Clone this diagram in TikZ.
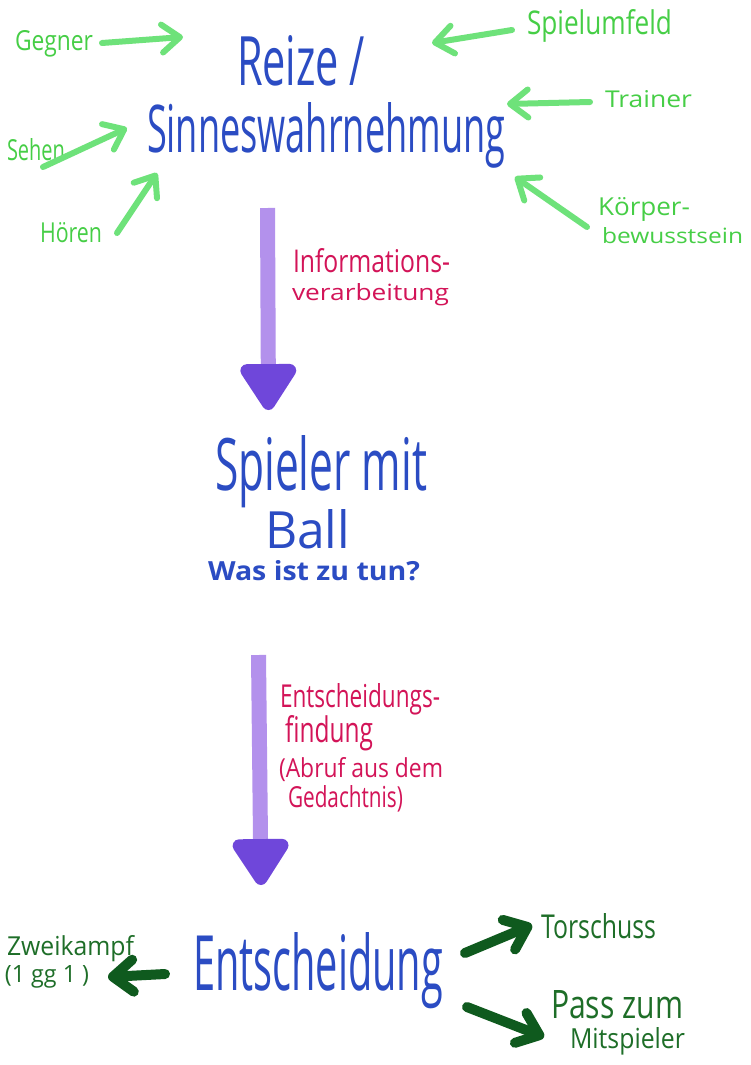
\documentclass[tikz,border=0pt]{standalone}
\usepackage{fontspec}
\usepackage{graphicx}
\setmainfont{Open Sans}
\usetikzlibrary{arrows.meta}
\definecolor{inkblue}{HTML}{2B4CC3}
\definecolor{textgreen}{HTML}{46CE46}
\definecolor{arrowgreen}{HTML}{6EE27A}
\definecolor{darkgreen}{HTML}{0F5A1E}
\definecolor{darkgreentext}{HTML}{1E6E28}
\definecolor{crimson}{HTML}{D31458}
\definecolor{shaftpurple}{HTML}{B391EC}
\definecolor{headpurple}{HTML}{6F47DA}
\newcommand{\hwtext}[3]{\resizebox{#1pt}{#2pt}{#3}}
\tikzset{
  txt/.style={anchor=base west, inner sep=0pt, outer sep=0pt},
  bluetxt/.style={txt, text=inkblue},
  greentxt/.style={txt, text=textgreen},
  dgreentxt/.style={txt, text=darkgreentext},
  redtxt/.style={txt, text=crimson},
  lightarrow/.style={draw=arrowgreen, line width=6pt, line cap=round,
    -{Straight Barb[length=18pt, width=28pt, round]}},
  darkarrow/.style={draw=darkgreen, line width=10pt, line cap=round,
    -{Straight Barb[length=20pt, width=32pt, round]}},
  bigarrow/.style={draw=shaftpurple, line width=15pt,
    -{Triangle[length=52pt, width=63pt, color=headpurple, round]}}
}
\begin{document}
\begin{tikzpicture}[x=1pt,y=-1pt]
\useasboundingbox[fill=white] (0,0) rectangle (750,1065);
% main texts
\node[bluetxt] (reize) at (237,85) {\hwtext{128}{50}{Reize /}};
\node[bluetxt] (sinnes) at (147,152) {\hwtext{358}{50}{Sinneswahrnehmung}};
\node[bluetxt] (spieler) at (215,490) {\hwtext{212}{55}{Spieler mit}};
\node[bluetxt] (ball) at (265,548) {\hwtext{85}{39}{Ball}};
\node[bluetxt] (wasist) at (208,580) {\hwtext{212}{20}{\bfseries Was ist zu tun?}};
\node[bluetxt] (entsch) at (193,990) {\hwtext{250}{58}{Entscheidung}};
% green labels
\node[greentxt] (gegner) at (15,50) {\hwtext{78}{20}{Gegner}};
\node[greentxt] (spielumfeld) at (527,35) {\hwtext{145}{25}{Spielumfeld}};
\node[greentxt] (trainer) at (605,107) {\hwtext{87}{17}{Trainer}};
\node[greentxt] (sehen) at (7,160) {\hwtext{58}{22}{Sehen}};
\node[greentxt] (hoeren) at (40,242) {\hwtext{62}{20}{Hören}};
\node[greentxt] (koerper) at (598,215) {\hwtext{92}{18}{Körper-}};
\node[greentxt] (bewusst) at (602,243) {\hwtext{141}{16}{bewusstsein}};
% crimson labels
\node[redtxt] (info1) at (293,272) {\hwtext{157}{24}{Informations-}};
\node[redtxt] (info2) at (292,300) {\hwtext{157}{17}{verarbeitung}};
\node[redtxt] (ent1) at (280,707) {\hwtext{160}{24}{Entscheidungs-}};
\node[redtxt] (ent2) at (285,742) {\hwtext{88}{27}{findung}};
\node[redtxt] (abruf) at (279,777) {\hwtext{164}{20}{(Abruf aus dem}};
\node[redtxt] (gedacht) at (288,807) {\hwtext{115}{22}{Gedachtnis)}};
% dark green labels
\node[dgreentxt] (zwei) at (7,955) {\hwtext{127}{20}{Zweikampf}};
\node[dgreentxt] (eins) at (5,982) {\hwtext{84}{17}{(1 gg 1 )}};
\node[dgreentxt] (tor) at (541,938) {\hwtext{115}{25}{Torschuss}};
\node[dgreentxt] (pass) at (551,1018) {\hwtext{132}{28}{Pass zum}};
\node[dgreentxt] (mitsp) at (570,1048) {\hwtext{115}{21}{Mitspieler}};
% arrow end points
\coordinate (gegA) at (102,43);  \coordinate (gegB) at (183,37);
\coordinate (spA) at (512,30);   \coordinate (spB) at (432,43);
\coordinate (trA) at (590,102);  \coordinate (trB) at (507,104);
\coordinate (seA) at (43,167);   \coordinate (seB) at (127,128);
\coordinate (hoA) at (117,233);  \coordinate (hoB) at (157,173);
\coordinate (koA) at (587,227);  \coordinate (koB) at (515,177);
\coordinate (zwA) at (165,974);  \coordinate (zwB) at (108,977);
\coordinate (toA) at (465,953);  \coordinate (toB) at (532,925);
\coordinate (paA) at (467,1007); \coordinate (paB) at (544,1037);
\coordinate (p1A) at (267.5,208); \coordinate (p1B) at (268.5,410);
\coordinate (p2A) at (258.5,655); \coordinate (p2B) at (261,885);
% arrows
\draw[lightarrow] (gegA) -- (gegB);
\draw[lightarrow] (spA) -- (spB);
\draw[lightarrow] (trA) -- (trB);
\draw[lightarrow] (seA) -- (seB);
\draw[lightarrow] (hoA) -- (hoB);
\draw[lightarrow] (koA) -- (koB);
\draw[darkarrow] (zwA) -- (zwB);
\draw[darkarrow] (toA) -- (toB);
\draw[darkarrow] (paA) -- (paB);
\draw[bigarrow] (p1A) -- (p1B);
\draw[bigarrow] (p2A) -- (p2B);
\end{tikzpicture}
\end{document}
